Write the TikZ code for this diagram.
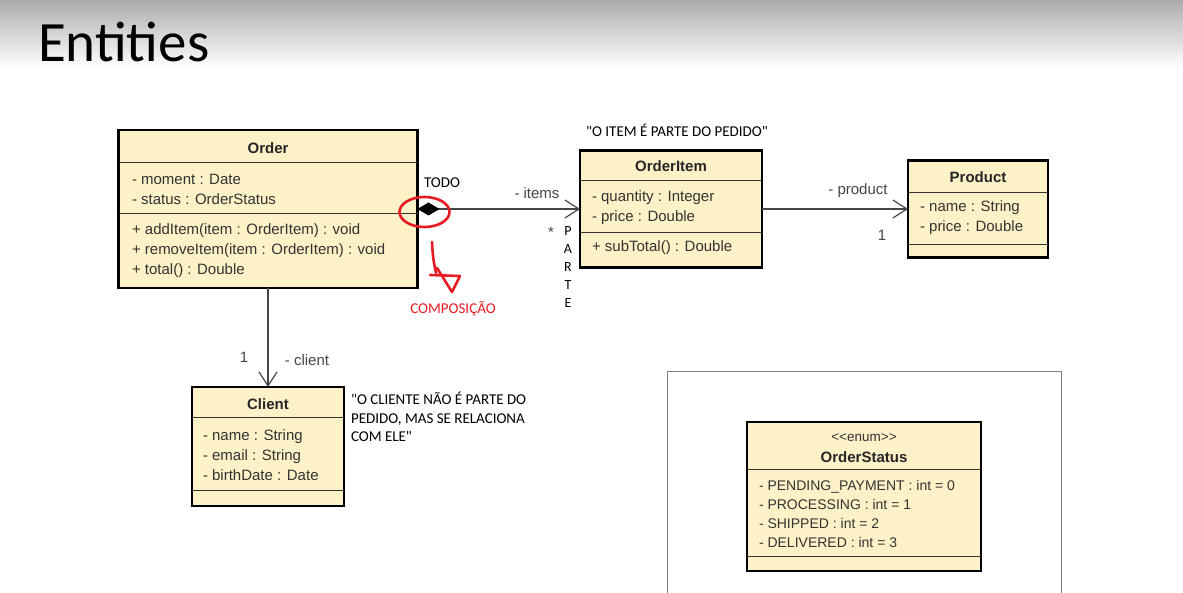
\documentclass[tikz,border=0pt]{standalone}
\usepackage{fontspec}
\setmainfont{Liberation Sans}
\newfontfamily\notefont{Carlito}
\usetikzlibrary{arrows.meta}

\definecolor{umlfill}{RGB}{253,241,199}
\definecolor{umlline}{RGB}{70,70,70}
\definecolor{markred}{RGB}{232,28,36}
\definecolor{titlegray}{RGB}{172,172,172}
\definecolor{framegray}{RGB}{125,125,125}

\begin{document}
\begin{tikzpicture}[x=1pt,y=-1pt,
  every node/.style={inner sep=0pt,outer sep=0pt},
  classbox/.style={draw=black,line width=2.5pt,fill=umlfill},
  divider/.style={draw=black!80,line width=0.9pt},
  classname/.style={font=\fontsize{15}{18}\selectfont\bfseries,text=black!85},
  members/.style={anchor=west,align=left,font=\fontsize{15}{20}\selectfont,text=black!80},
  rolelabel/.style={font=\fontsize{15}{18}\selectfont,text=umlline},
  note/.style={font=\notefont\fontsize{15}{18.5}\selectfont},
  assoc/.style={draw=umlline,line width=1.2pt,-{Straight Barb[length=14pt,width=18pt]}},
  compose/.style={draw=umlline,line width=1.2pt,{Diamond[length=22pt,width=13pt,color=black]}-{Straight Barb[length=14pt,width=18pt]}},
  redmark/.style={draw=markred,line width=2.6pt,line cap=round,line join=round},
]
\useasboundingbox (0,0) rectangle (1183,593);
\fill[white] (0,0) rectangle (1183,593);
\shade[top color=titlegray,bottom color=white] (0,0) rectangle (1183,68);
\node[anchor=base west,font=\notefont\fontsize{57}{60}\selectfont] (title) at (38,62) {Entities};

% classes
\node[classbox,minimum width=299pt,minimum height=158pt] (order) at (268,209) {};
\node[classbox,minimum width=182pt,minimum height=117pt] (orderitem) at (671,209) {};
\node[classbox,minimum width=140pt,minimum height=97pt] (product) at (978,209) {};
\node[classbox,minimum width=152pt,minimum height=119pt] (client) at (268,446.5) {};
\node[classbox,minimum width=234pt,minimum height=149pt] (orderstatus) at (864,496.5) {};

\draw[divider] (order.west |- 0,162) -- (order.east |- 0,162);
\draw[divider] (order.west |- 0,213) -- (order.east |- 0,213);
\draw[divider] (orderitem.west |- 0,180) -- (orderitem.east |- 0,180);
\draw[divider] (orderitem.west |- 0,232) -- (orderitem.east |- 0,232);
\draw[divider] (product.west |- 0,192) -- (product.east |- 0,192);
\draw[divider] (product.west |- 0,244) -- (product.east |- 0,244);
\draw[divider] (client.west |- 0,417) -- (client.east |- 0,417);
\draw[divider] (client.west |- 0,490) -- (client.east |- 0,490);
\draw[divider] (orderstatus.west |- 0,469) -- (orderstatus.east |- 0,469);
\draw[divider] (orderstatus.west |- 0,556) -- (orderstatus.east |- 0,556);

\node[classname] (ordername) at (268,148) {Order};
\node[members] (orderattr) at (132,189) {- moment : Date\\- status : OrderStatus};
\node[members] (orderops) at (132,251) {+ addItem(item : OrderItem) : void\\+ removeItem(item : OrderItem) : void\\+ total() : Double};

\node[classname] (itemname) at (671,166) {OrderItem};
\node[members] (itemattr) at (592,208) {- quantity : Integer\\- price : Double};
\node[members] (itemops) at (592,248) {+ subTotal() : Double};

\node[classname] (productname) at (978,177) {Product};
\node[members] (productattr) at (920,218) {- name : String\\- price : Double};

\node[classname] (clientname) at (268,404) {Client};
\node[members] (clientattr) at (203,455) {- name : String\\- email : String\\- birthDate : Date};

\node[font=\fontsize{13.5}{15}\selectfont,text=black!80] (stereo) at (864,438) {<{}<enum>{}>};
\node[classname] (statusname) at (864,457) {OrderStatus};
\node[members,font=\fontsize{14}{18.7}\selectfont] (statusvals) at (759,514)
  {- PENDING\_PAYMENT : int = 0\\- PROCESSING : int = 1\\- SHIPPED : int = 2\\- DELIVERED : int = 3};

% frame round the enum
\draw[framegray,line width=1pt] (667,593) -- (667,372) -- (1061,372) -- (1061,593);

% associations
\draw[compose] (order.east) -- (orderitem.west);
\draw[assoc] (orderitem.east) -- (product.west);
\draw[assoc] (order.south) -- (client.north);

\node[rolelabel] (itemsrole) at (537,193) {- items};
\node[rolelabel] (itemsmult) at (551,232) {*};
\node[rolelabel] (productrole) at (858,191) {- product};
\node[rolelabel] (productmult) at (882,235) {1};
\node[rolelabel] (clientmult) at (244,357) {1};
\node[rolelabel] (clientrole) at (307,360) {- client};

% notes
\node[note] (todo) at (442,183) {TODO};
\node[note] (itemnote) at (677,130) {"O ITEM É PARTE DO PEDIDO"};
\node[note,align=center,font=\notefont\fontsize{14}{17.9}\selectfont] (parte) at (568,267) {P\\A\\R\\T\\E};
\node[note,anchor=west,align=left] (clientnote) at (351,417) {"O CLIENTE NÃO É PARTE DO\\PEDIDO, MAS SE RELACIONA\\COM ELE"};
\node[note,text=markred] (composicao) at (453,309) {COMPOSIÇÃO};

% red marks
\draw[redmark] (424.5,212) ellipse [x radius=25,y radius=15];
\draw[redmark] (432,242) .. controls (433,258) .. (436,273);
\draw[redmark] (430,275) -- (460,276) -- (452,292) -- (437,268);
\end{tikzpicture}
\end{document}
